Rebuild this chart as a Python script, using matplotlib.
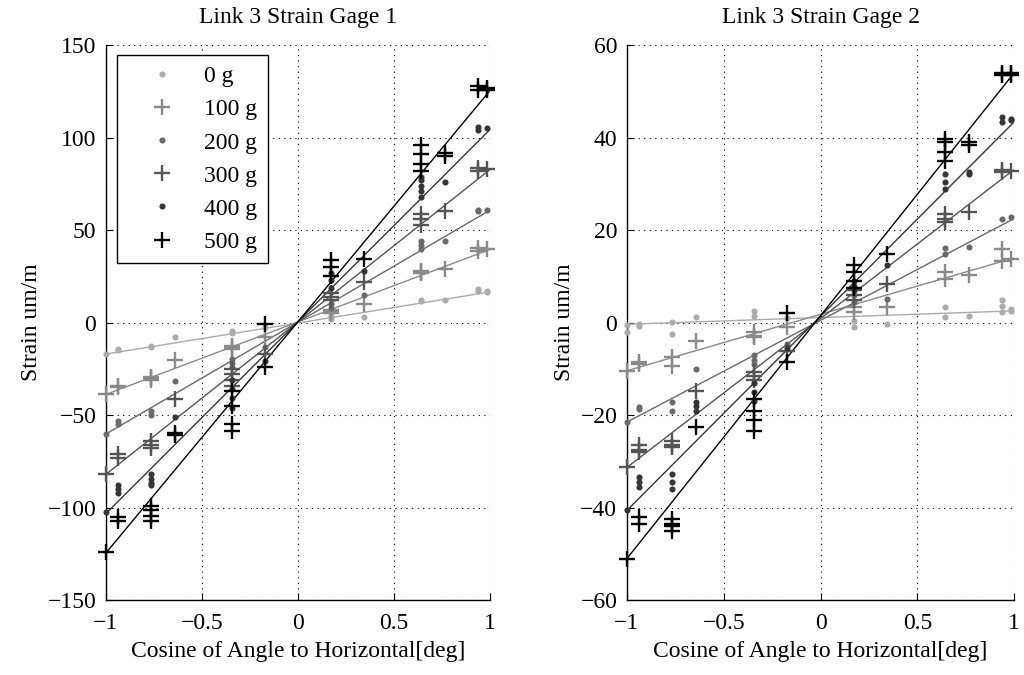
import matplotlib
matplotlib.use("Agg")
import matplotlib.pyplot as plt
import numpy as np

plt.rcParams['font.family'] = ['Liberation Serif', 'DejaVu Serif']
plt.rcParams['mathtext.fontset'] = 'stix'

# ---------------- data ----------------
x_pos = [-1.0, -0.94, -0.766, -0.643, -0.342, -0.174, 0.174, 0.342, 0.643, 0.766, 0.94, 0.985]
loads = ['0 g', '100 g', '200 g', '300 g', '400 g', '500 g']
colors = ['#ababab', '#8a8a8a', '#6a6a6a', '#555555', '#353535', '#000000']
markers = ['dot', 'plus', 'dot', 'plus', 'dot', 'plus']

# Gage 1 samples (per x position)
g1_0g = [[-17], [-15, -14.5], [-13.3, -12.5], [-7.6], [-5.5, -4.5], [-2.5], [2, 3, 4], [3], [11.5, 12], [12], [17, 18], [16.5, 17]]
g1_100g = [[-38.5], [-34.6, -34], [-31, -30, -29.5], [-20], [-12.5, -13.5, -14], [-8], [5, 6.5, 7], [10], [27, 27.5, 28], [29], [39, 40.5], [40]]
g1_200g = [[-60], [-53, -55], [-47.5, -50], [-31.4], [-19.6, -22, -24], [-13], [8, 10], [15], [40, 42, 44], [44], [60.5, 61], [61]]
g1_300g = [[-82], [-71, -73], [-64, -66, -68], [-41.3], [-25, -28, -31, -34], [-17], [12, 14, 16], [22], [53, 56, 59], [60.5], [82, 83.5], [83]]
g1_400g = [[-102.5], [-88, -90, -92], [-82, -84.5, -86.5, -88], [-51.2], [-31, -36, -41, -46], [-20.5], [19, 23, 27], [28], [68, 71, 74, 77, 79], [75.8], [104, 106], [105]]
g1_500g = [[-124], [-105, -107.5], [-99, -101.5, -104.5, -107], [-59.5, -61], [-37, -45, -55, -58.5], [-0.5, -24], [25, 30, 34], [34.5], [82, 86, 91, 96], [90, 91.5], [126, 128], [126, 127]]
g1_samples = [g1_0g, g1_100g, g1_200g, g1_300g, g1_400g, g1_500g]
g1_slope = [16.8, 39.2, 60.5, 82.4, 103.8, 125.0]
g1_icept = [-0.2, 0.4, 0.3, 0.4, 0.6, 0.5]

# Gage 2 samples (per x position)
g2_0g = [[-0.5, -2], [-0.3, -0.8], [0.1, -2.5], [1.2], [1.5, 2.5], [1], [0.3, -1], [-0.3], [1.2, 3.3], [1.5], [2.2, 3.5, 5], [2.6, 3]]
g2_100g = [[-10.4], [-8.9, -8.5], [-7.5, -9.3], [-3.9], [-2, -2.8, -3], [-1], [2.2, 3.3], [3.3], [9.4, 10.9], [10.2], [13.4, 15.9], [13.8]]
g2_200g = [[-21.5], [-18.7, -18.2], [-17.2, -19], [-10], [-7, -8, -9], [-4.6], [4.4, 5.9], [5.1], [14.8, 16.2], [16.3], [22.4], [22.8]]
g2_300g = [[-31.3], [-26.5, -27.5, -28], [-25.5, -26.5, -27], [-14.7], [-10.7, -11.5, -12.5], [-6.1], [5, 6, 7], [8.3], [21.7, 22.5, 23.5], [24], [32.5, 33], [32.9]]
g2_400g = [[-40.6], [-33.4, -34.5, -35.6], [-32.7, -34.5, -36], [-17.2, -18, -19], [-13, -15, -16.9], [-5.5], [7, 8, 9], [12.4], [28.9, 30.5, 32.1], [32.1, 32.5], [43.5, 44.5], [43.8, 44]]
g2_500g = [[-51.1], [-42, -43.5], [-42.4, -43.5, -44, -45], [-22.5], [-16.5, -19, -21, -23.5], [2, -8.6], [7.5, 9, 11, 12.5], [14.8], [35, 37, 39, 39.7], [38.5, 39], [53.5, 54], [53.5, 54]]
g2_samples = [g2_0g, g2_100g, g2_200g, g2_300g, g2_400g, g2_500g]
g2_slope = [1.45, 12.2, 22.0, 32.2, 42.0, 52.5]
g2_icept = [1.1, 1.8, 0.5, 0.9, 1.4, 1.5]

titles = ['Link 3 Strain Gage 1', 'Link 3 Strain Gage 2']
ylims = [(-150, 150), (-60, 60)]
yticks = [[-150, -100, -50, 0, 50, 100, 150], [-60, -40, -20, 0, 20, 40, 60]]
xticks = [-1, -0.5, 0, 0.5, 1]
xticklabels = ['\u22121', '\u22120.5', '0', '0.5', '1']

fig = plt.figure(figsize=(10.24, 6.75), dpi=100)
ax1 = fig.add_axes([0.1035, 0.111, 0.375, 0.822])
ax2 = fig.add_axes([0.6123, 0.111, 0.378, 0.822])

FS = 17

def draw(ax, samples, slopes, icepts, title, ylim, yt, legend=False):
    handles = []
    xl = np.array([-1.0, 1.0])
    for i, lab in enumerate(loads):
        xs, ys = [], []
        for xv, yl in zip(x_pos, samples[i]):
            for yv in yl:
                xs.append(xv)
                ys.append(yv)
        if markers[i] == 'dot':
            h, = ax.plot(xs, ys, linestyle='none', marker='o', markersize=4.4,
                         markeredgewidth=0, color=colors[i], label=lab, zorder=3,
                         clip_on=False)
        else:
            h, = ax.plot(xs, ys, linestyle='none', marker='+', markersize=11,
                         markeredgewidth=1.7, color=colors[i], label=lab, zorder=3,
                         clip_on=False)
        handles.append(h)
        ax.plot(xl, slopes[i] * xl + icepts[i], color=colors[i], linewidth=1.0, zorder=2)
    ax.set_xlim(-1, 1)
    ax.set_ylim(*ylim)
    ax.set_xticks(xticks)
    ax.set_xticklabels(xticklabels)
    ax.set_yticks(yt)
    ax.set_yticklabels([('\u2212' + str(-v)) if v < 0 else str(v) for v in yt])
    ax.grid(True, linestyle=(0, (1, 4)), color='black', linewidth=0.8)
    for s in ['top', 'right']:
        ax.spines[s].set_visible(False)
    for s in ['left', 'bottom']:
        ax.spines[s].set_linewidth(1.0)
    ax.tick_params(direction='in', length=5, labelsize=FS, pad=9)
    ax.tick_params(axis='y', pad=7)
    ax.set_title(title, fontsize=FS, pad=16)
    ax.set_xlabel('Cosine of Angle to Horizontal[deg]', fontsize=FS, labelpad=5)
    ax.set_ylabel('Strain um/m', fontsize=FS, labelpad=4)
    if legend:
        leg = ax.legend(handles=handles, loc='upper left', bbox_to_anchor=(0.029, 0.982),
                        borderaxespad=0, fontsize=FS, frameon=True, fancybox=False,
                        edgecolor='black', framealpha=1, labelspacing=0.49,
                        handlelength=2.9, handletextpad=0.35, borderpad=0.45, markerscale=1.0)
        leg.get_frame().set_linewidth(1.0)

draw(ax1, g1_samples, g1_slope, g1_icept, titles[0], ylims[0], yticks[0], legend=True)
draw(ax2, g2_samples, g2_slope, g2_icept, titles[1], ylims[1], yticks[1])

fig.savefig('out.png', dpi=100)
